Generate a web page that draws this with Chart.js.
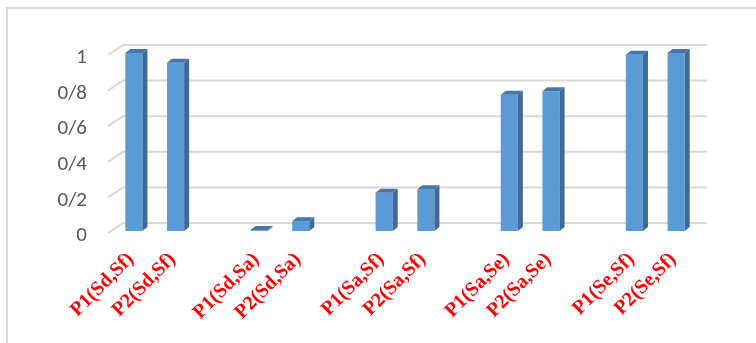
<!DOCTYPE html>
<html>
<head>
<meta charset="utf-8">
<script src="https://cdn.jsdelivr.net/npm/chart.js@4/dist/chart.umd.min.js"></script>
<style>
  html, body { margin: 0; padding: 0; background: #ffffff; }
  #wrap { width: 756px; height: 343px; }
</style>
</head>
<body>
<div id="wrap"><canvas id="c" width="756" height="343"></canvas></div>
<script>
// Categories (empty strings keep the gaps between pairs)
const categories = [
  'P1(Sd,Sf)', 'P2(Sd,Sf)', '',
  'P1(Sd,Sa)', 'P2(Sd,Sa)', '',
  'P1(Sa,Sf)', 'P2(Sa,Sf)', '',
  'P1(Sa,Se)', 'P2(Sa,Se)', '',
  'P1(Se,Sf)', 'P2(Se,Sf)'
];
// Series values
const values = [
  1.0, 0.945, null,
  0.005, 0.055, null,
  0.215, 0.235, null,
  0.765, 0.785, null,
  0.99, 1.0
];
// Y tick labels ("/" used as decimal separator)
const yTickLabels = ['0', '0/2', '0/4', '0/6', '0/8', '1'];

const DEPTH_X = 5, DEPTH_Y = 4;        // bar extrusion
const WALL_X = 15, WALL_Y = 10;        // floor depth of the gridlines
const GRID_RIGHT = 707;

// Frame lines on the left and top
const framePlugin = {
  id: 'frame',
  beforeDraw(chart) {
    const ctx = chart.ctx;
    ctx.save();
    ctx.fillStyle = '#ffffff';
    ctx.fillRect(0, 0, chart.width, chart.height);
    ctx.strokeStyle = '#d9d9d9';
    ctx.lineWidth = 2;
    ctx.beginPath();
    ctx.moveTo(7, chart.height);
    ctx.lineTo(7, 8);
    ctx.lineTo(chart.width, 8);
    ctx.stroke();
    ctx.restore();
  }
};

// Perspective gridlines: short diagonal along the floor, then the back wall
const gridPlugin = {
  id: 'grid3d',
  beforeDatasetsDraw(chart) {
    const ctx = chart.ctx;
    const y = chart.scales.y;
    const x0 = chart.scales.x.left - 5;
    ctx.save();
    ctx.strokeStyle = '#d9d9d9';
    ctx.lineWidth = 2;
    y.ticks.forEach(t => {
      const py = y.getPixelForValue(t.value);
      ctx.beginPath();
      ctx.moveTo(x0, py + 2);
      ctx.lineTo(x0 + WALL_X, py + 2 - WALL_Y);
      ctx.lineTo(GRID_RIGHT, py + 2 - WALL_Y);
      ctx.stroke();
    });
    ctx.restore();
  }
};

// Side and top faces of each bar
const extrudePlugin = {
  id: 'extrude',
  afterDatasetsDraw(chart) {
    const ctx = chart.ctx;
    const meta = chart.getDatasetMeta(0);
    ctx.save();
    meta.data.forEach((bar, i) => {
      if (values[i] === null) return;
      const p = bar.getProps(['x', 'y', 'base', 'width'], true);
      const l = p.x - p.width / 2, r = p.x + p.width / 2;
      // side
      ctx.fillStyle = '#3d6a96';
      ctx.beginPath();
      ctx.moveTo(r, p.y);
      ctx.lineTo(r + DEPTH_X, p.y - DEPTH_Y);
      ctx.lineTo(r + DEPTH_X, p.base - DEPTH_Y);
      ctx.lineTo(r, p.base);
      ctx.closePath();
      ctx.fill();
      // top
      ctx.fillStyle = '#4677a8';
      ctx.beginPath();
      ctx.moveTo(l, p.y);
      ctx.lineTo(l + DEPTH_X, p.y - DEPTH_Y);
      ctx.lineTo(r + DEPTH_X, p.y - DEPTH_Y);
      ctx.lineTo(r, p.y);
      ctx.closePath();
      ctx.fill();
    });
    ctx.restore();
  }
};

new Chart(document.getElementById('c'), {
  type: 'bar',
  data: {
    labels: categories,
    datasets: [{
      data: values,
      backgroundColor: '#5b9bd5',
      borderWidth: 0,
      categoryPercentage: 1,
      barPercentage: 0.41
    }]
  },
  options: {
    responsive: false,
    animation: false,
    events: [],
    layout: { padding: { top: 53, right: 59, bottom: 0, left: 0 } },
    plugins: { legend: { display: false }, tooltip: { enabled: false } },
    scales: {
      x: {
        grid: { display: false },
        border: { display: false },
        ticks: {
          autoSkip: false,
          minRotation: 45,
          maxRotation: 45,
          padding: 9,
          labelOffset: -3,
          color: '#ff0000',
          font: { family: '"Liberation Serif", "Times New Roman", serif', size: 20, weight: 'bold' }
        },
        afterFit(scale) { scale.height = 112; }
      },
      y: {
        min: 0,
        max: 1,
        grid: { display: false },
        border: { display: false },
        ticks: {
          stepSize: 0.2,
          padding: 18,
          labelOffset: 5,
          color: '#595959',
          font: { family: 'Carlito, Lato, "Open Sans", sans-serif', size: 21 },
          callback: (v, i) => yTickLabels[i]
        },
        afterFit(scale) { scale.width = 113; }
      }
    }
  },
  plugins: [framePlugin, gridPlugin, extrudePlugin]
});
</script>
</body>
</html>
